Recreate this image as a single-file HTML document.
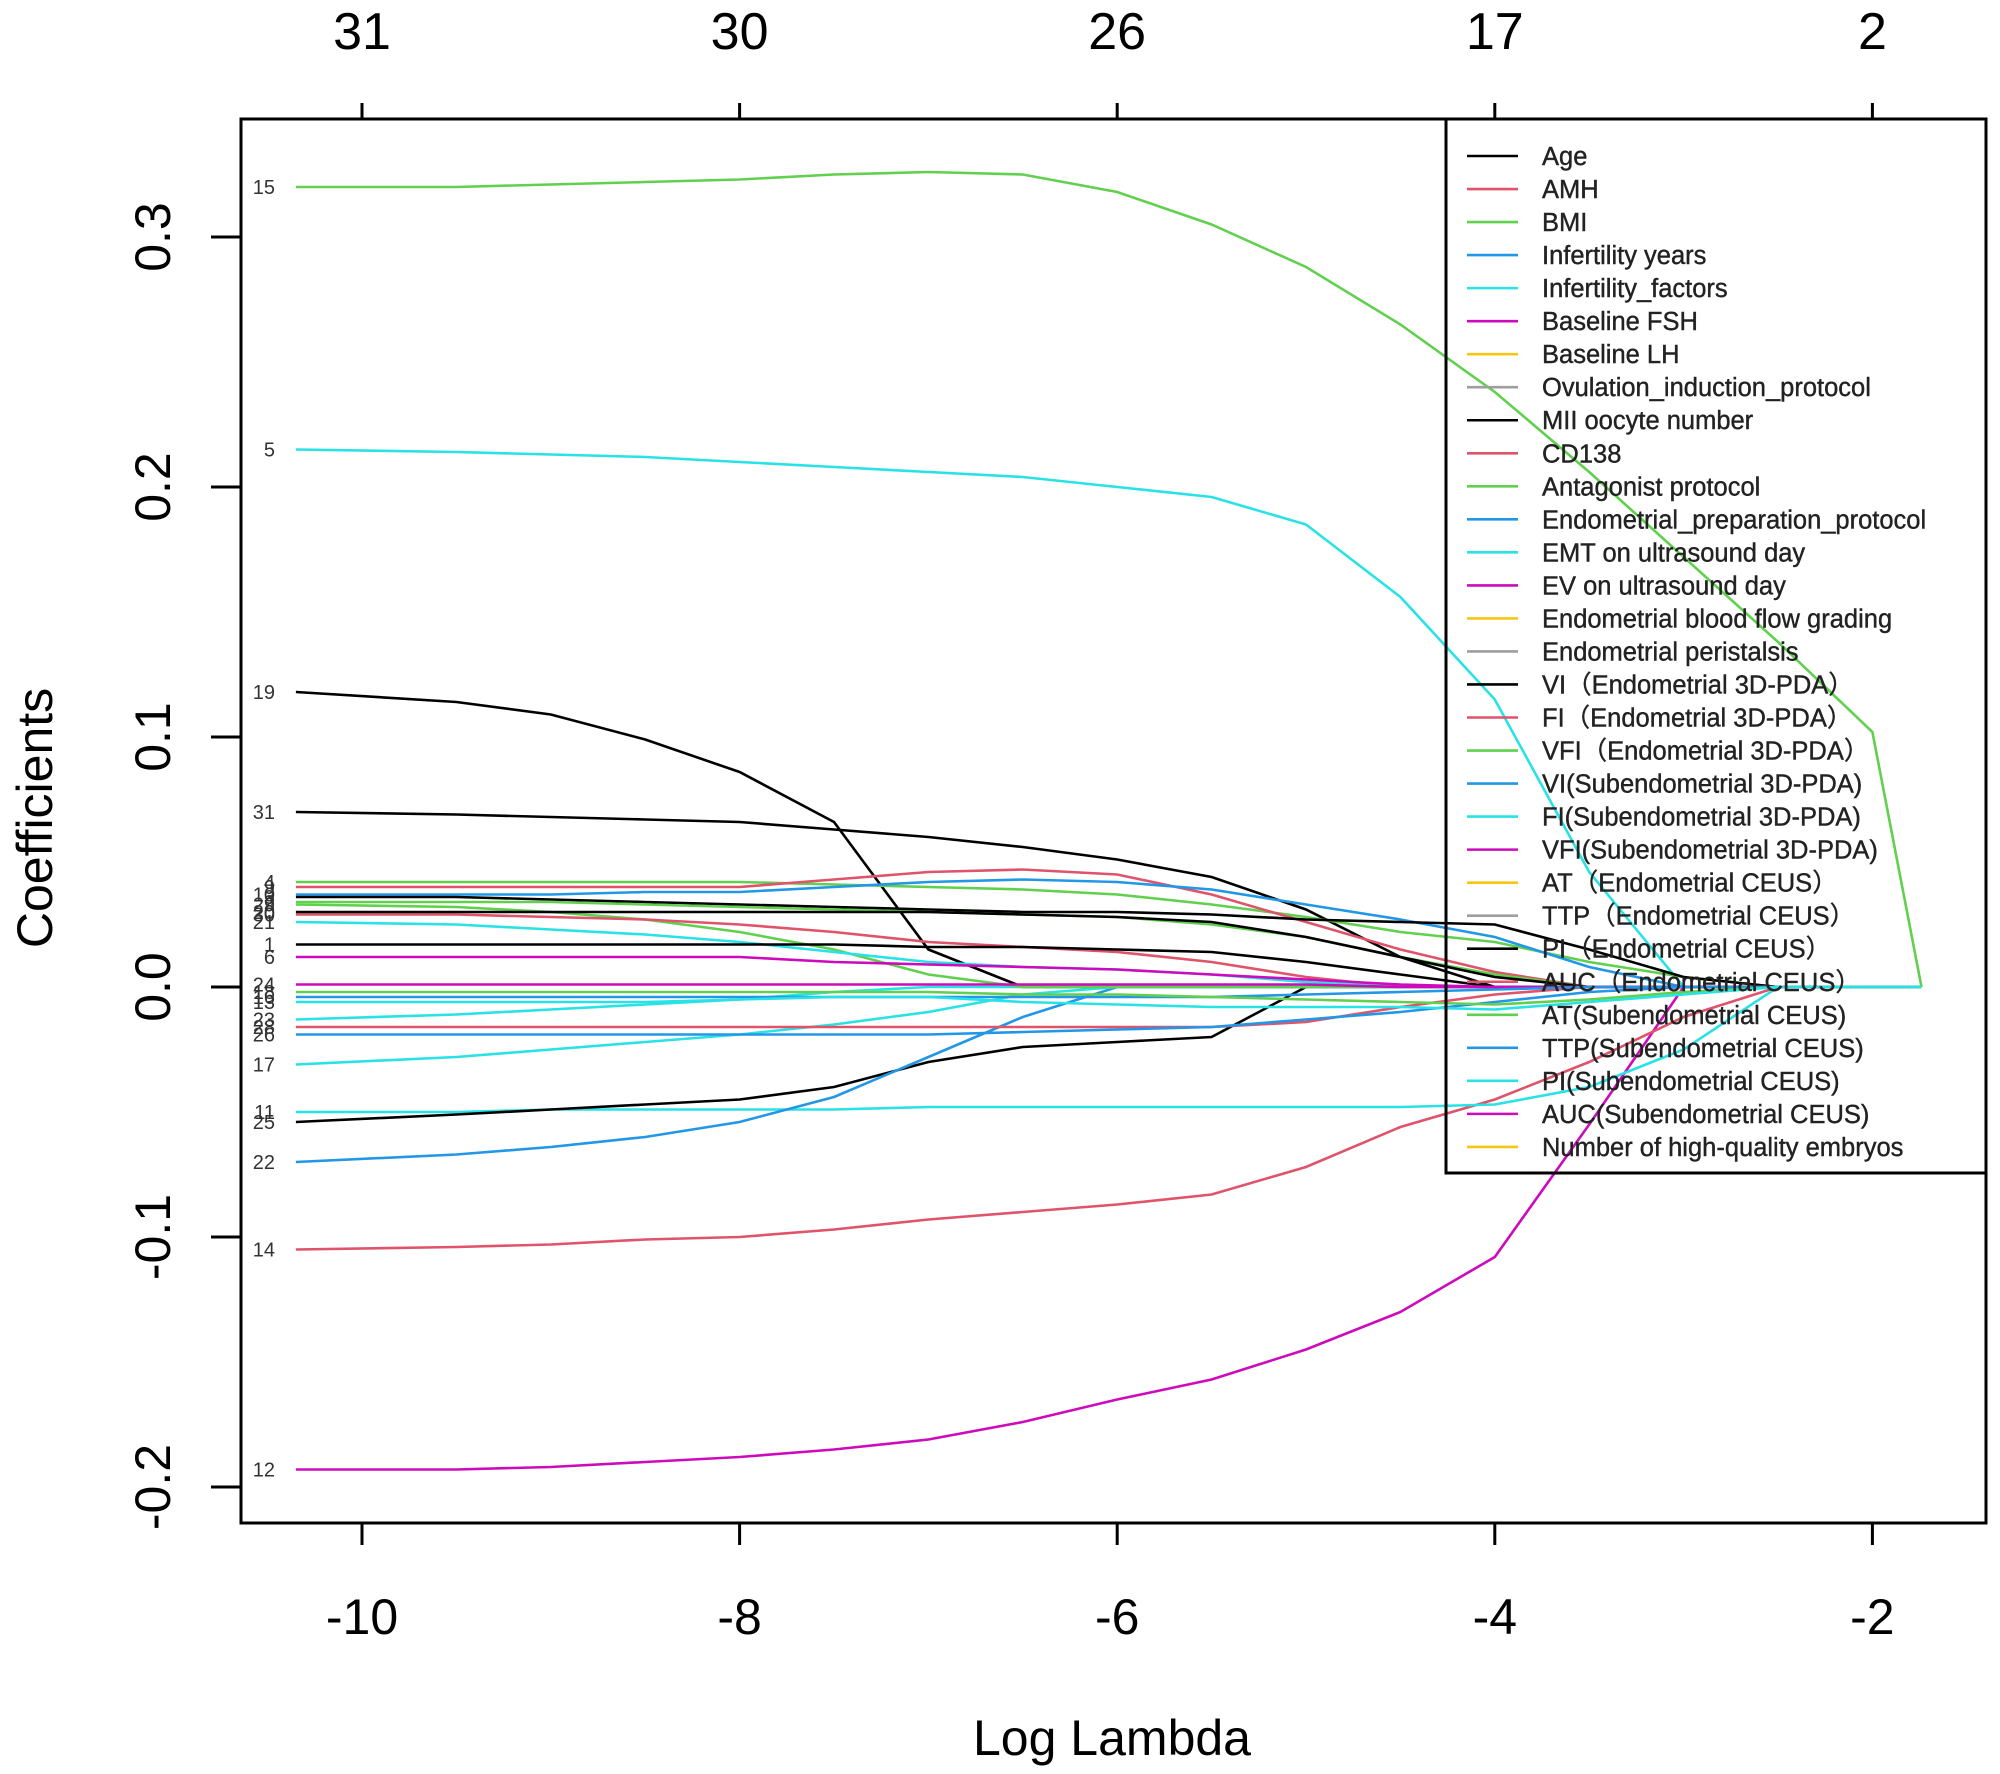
<!DOCTYPE html>
<html><head><meta charset="utf-8"><style>
html,body{margin:0;padding:0;background:#fff;}
svg{display:block;font-family:"Liberation Sans","Noto Sans CJK SC",sans-serif;}
</style></head><body>
<svg id="chart" width="2000" height="1774" viewBox="0 0 2000 1774" xmlns="http://www.w3.org/2000/svg">
<rect x="0" y="0" width="2000" height="1774" fill="#fff"/>
<g id="lines"></g>
<g id="axes"></g>
<g id="legend"></g>
</svg>
<script>
// ---- data ----
const logLambda = [-10.35,-9.5,-9,-8.5,-8,-7.5,-7,-6.5,-6,-5.5,-5,-4.5,-4,-3.5,-3,-2.5,-2,-1.74];
const seriesIds = ['15','5','19','31','12','14','11','25','22','17','28','26','23','4a','4b','4c','4d','4e','4f','4g','30','20','1','6','z1','z2','z3','z4'];
const seriesColors = ['#61D04F','#28E2E5','#000000','#000000','#CD0BBC','#DF536B','#28E2E5','#000000','#2297E6','#28E2E5','#DF536B','#2297E6','#28E2E5','#61D04F','#DF536B','#2297E6','#000000','#61D04F','#61D04F','#DF536B','#000000','#28E2E5','#000000','#CD0BBC','#CD0BBC','#2297E6','#61D04F','#28E2E5'];
const labelShown = ['15','5','19','31','12','14','11','25','22','17','28','26','23','4','9','10','3','2','29','30','20','21','1','6','24','16','18','13'];
const s15 = [0.320,0.320,0.321,0.322,0.323,0.325,0.326,0.325,0.318,0.305,0.288,0.265,0.238,0.206,0.172,0.138,0.102,0];
const s5  = [0.215,0.214,0.213,0.212,0.210,0.208,0.206,0.204,0.200,0.196,0.185,0.156,0.115,0.046,0.0,0,0,0];
const s19 = [0.118,0.114,0.109,0.099,0.086,0.066,0.015,0,0,0,0,0,0,0,0,0,0,0];
const s31 = [0.070,0.069,0.068,0.067,0.066,0.063,0.060,0.056,0.051,0.044,0.031,0.012,0,0,0,0,0,0];
const s12 = [-0.193,-0.193,-0.192,-0.190,-0.188,-0.185,-0.181,-0.174,-0.165,-0.157,-0.145,-0.130,-0.108,-0.055,0,0,0,0];
const s14 = [-0.105,-0.104,-0.103,-0.101,-0.100,-0.097,-0.093,-0.090,-0.087,-0.083,-0.072,-0.056,-0.045,-0.030,-0.012,0,0,0];
const s11 = [-0.050,-0.050,-0.049,-0.049,-0.049,-0.049,-0.048,-0.048,-0.048,-0.048,-0.048,-0.048,-0.047,-0.040,-0.025,0,0,0];
const s25 = [-0.054,-0.051,-0.049,-0.047,-0.045,-0.040,-0.030,-0.024,-0.022,-0.020,0,0,0,0,0,0,0,0];
const s22 = [-0.070,-0.067,-0.064,-0.060,-0.054,-0.044,-0.028,-0.012,0,0,0,0,0,0,0,0,0,0];
const s17 = [-0.031,-0.028,-0.025,-0.022,-0.019,-0.015,-0.010,-0.003,0,0,0,0,0,0,0,0,0,0];
const s28 = [-0.016,-0.016,-0.016,-0.016,-0.016,-0.016,-0.016,-0.016,-0.016,-0.016,-0.014,-0.008,-0.003,0,0,0,0,0];
const s26 = [-0.019,-0.019,-0.019,-0.019,-0.019,-0.019,-0.019,-0.018,-0.017,-0.016,-0.013,-0.010,-0.006,-0.002,0,0,0,0];
const s23 = [-0.013,-0.011,-0.009,-0.007,-0.005,-0.002,0,0,0,0,0,0,0,0,0,0,0,0];
const s4a = [0.042,0.042,0.042,0.042,0.042,0.041,0.040,0.039,0.037,0.033,0.028,0.022,0.018,0.010,0.004,0,0,0];
const s4b = [0.040,0.040,0.040,0.040,0.040,0.043,0.046,0.047,0.045,0.037,0.026,0.015,0.006,0,0,0,0,0];
const s4c = [0.037,0.037,0.037,0.038,0.038,0.040,0.042,0.043,0.042,0.039,0.033,0.027,0.020,0.008,0,0,0,0];
const s4d = [0.036,0.036,0.035,0.034,0.033,0.032,0.031,0.030,0.030,0.029,0.027,0.026,0.025,0.015,0.004,0,0,0];
const s4e = [0.034,0.034,0.034,0.033,0.032,0.031,0.030,0.029,0.028,0.025,0.020,0.012,0.005,0,0,0,0,0];
const s4f = [0.033,0.032,0.030,0.027,0.022,0.015,0.005,0,0,0,0,0,0,0,0,0,0,0];
const s4g = [0.029,0.029,0.028,0.027,0.025,0.022,0.018,0.016,0.014,0.010,0.004,0,0,0,0,0,0,0];
const s30 = [0.030,0.030,0.030,0.030,0.030,0.030,0.030,0.029,0.028,0.026,0.020,0.012,0.004,0,0,0,0,0];
const s20 = [0.026,0.025,0.023,0.021,0.018,0.014,0.010,0.008,0.007,0.005,0.002,0,0,0,0,0,0,0];
const s1  = [0.017,0.017,0.017,0.017,0.017,0.017,0.016,0.016,0.015,0.014,0.010,0.005,0,0,0,0,0,0];
const s6  = [0.012,0.012,0.012,0.012,0.012,0.010,0.009,0.008,0.007,0.005,0.003,0.001,0,0,0,0,0,0];
const sz1 = [0.001,0.001,0.001,0.001,0.001,0.001,0.001,0.001,0.001,0.001,0.001,0,0,0,0,0,0,0];
const sz2 = [-0.004,-0.004,-0.004,-0.004,-0.004,-0.004,-0.004,-0.004,-0.004,-0.004,-0.003,-0.002,-0.001,0,0,0,0,0];
const sz3 = [-0.002,-0.002,-0.002,-0.002,-0.002,-0.002,-0.002,-0.003,-0.003,-0.004,-0.005,-0.006,-0.007,-0.005,-0.002,0,0,0];
const sz4 = [-0.006,-0.006,-0.006,-0.006,-0.005,-0.004,-0.004,-0.006,-0.007,-0.008,-0.008,-0.008,-0.009,-0.006,-0.003,0,0,0];
const seriesValues = [s15,s5,s19,s31,s12,s14,s11,s25,s22,s17,s28,s26,s23,s4a,s4b,s4c,s4d,s4e,s4f,s4g,s30,s20,s1,s6,sz1,sz2,sz3,sz4];
const xTicks = [-10,-8,-6,-4,-2];
const topTickLabels = ['31','30','26','17','2'];
const yTicks = [-0.2,-0.1,0.0,0.1,0.2,0.3];
const yTickLabels = ['-0.2','-0.1','0.0','0.1','0.2','0.3'];
const legendNames = ['Age','AMH','BMI','Infertility years','Infertility_factors','Baseline FSH','Baseline LH','Ovulation_induction_protocol','MII oocyte number','CD138','Antagonist protocol','Endometrial_preparation_protocol','EMT on ultrasound day','EV on ultrasound day','Endometrial blood flow grading','Endometrial peristalsis','VI（Endometrial 3D-PDA）','FI（Endometrial 3D-PDA）','VFI（Endometrial 3D-PDA）','VI(Subendometrial 3D-PDA)','FI(Subendometrial 3D-PDA)','VFI(Subendometrial 3D-PDA)','AT（Endometrial CEUS）','TTP（Endometrial CEUS）','PI（Endometrial CEUS）','AUC（Endometrial CEUS）','AT(Subendometrial CEUS)','TTP(Subendometrial CEUS)','PI(Subendometrial CEUS)','AUC(Subendometrial CEUS)','Number of high-quality embryos'];
const palette = ['#000000','#DF536B','#61D04F','#2297E6','#28E2E5','#CD0BBC','#F5C710','#9E9E9E'];

// ---- scales ----
const L=241,R=1986,T=119,B=1523;
function xs(v){return 362+(v+10)*188.8;}
function ys(v){return 987-v*2500;}
const NS='http://www.w3.org/2000/svg';
function mk(tag,attrs,parent){const e=document.createElementNS(NS,tag);for(const k in attrs)e.setAttribute(k,attrs[k]);parent.appendChild(e);return e;}

const gl=document.getElementById('lines');
seriesValues.forEach((vals,i)=>{
  const pts=vals.map((v,j)=>xs(logLambda[j]).toFixed(1)+','+ys(v).toFixed(1)).join(' ');
  const p=mk('polyline',{points:pts,fill:'none',stroke:seriesColors[i],'stroke-width':2.6},gl);
  
  
  const t=mk('text',{x:275,y:ys(vals[0])+7,'text-anchor':'end','font-size':20,fill:'#333'},gl);
  t.textContent=labelShown[i];
  
  
});

const ga=document.getElementById('axes');
const box=mk('rect',{x:L,y:T,width:R-L,height:B-T,fill:'none',stroke:'#000','stroke-width':3},ga);


xTicks.forEach((v,i)=>{
  const x=xs(v);
  mk('line',{x1:x,y1:B,x2:x,y2:B+22,stroke:'#000','stroke-width':3},ga);
  const b=mk('text',{x:x,y:1634,'text-anchor':'middle','font-size':50,fill:'#000'},ga);
  b.textContent=String(v);
  
  
  mk('line',{x1:x,y1:T,x2:x,y2:T-16,stroke:'#000','stroke-width':3},ga);
  const t=mk('text',{x:x,y:49,'text-anchor':'middle','font-size':52,fill:'#000'},ga);
  t.textContent=topTickLabels[i];
  
  
});
yTicks.forEach((v,i)=>{
  const y=ys(v);
  mk('line',{x1:L,y1:y,x2:L-30,y2:y,stroke:'#000','stroke-width':3},ga);
  const t=mk('text',{x:170,y:y,'text-anchor':'middle','font-size':50,fill:'#000',transform:'rotate(-90 170 '+y+')'},ga);
  t.textContent=yTickLabels[i];
  
  
});
const xt=mk('text',{x:1112,y:1755,'text-anchor':'middle','font-size':50,fill:'#000'},ga);
xt.textContent='Log Lambda';


const yt=mk('text',{x:52,y:818,'text-anchor':'middle','font-size':50,fill:'#000',transform:'rotate(-90 52 818)'},ga);
yt.textContent='Coefficients';



const lg=document.getElementById('legend');
const lb=mk('rect',{x:1446,y:T,width:R-1446,height:1173-T,fill:'none',stroke:'#000','stroke-width':3},lg);


legendNames.forEach((n,i)=>{
  const y=156+i*33.03;
  const g=mk('g',{},lg);
  
  
  mk('line',{x1:1467,y1:y,x2:1518,y2:y,stroke:palette[i%8],'stroke-width':2.6},g);
  const t=mk('text',{x:1542,y:y+9,'font-size':25.5,fill:'#222','stroke':'#222','stroke-width':0.4},g);
  t.textContent=n;
});
</script>
</body></html>
